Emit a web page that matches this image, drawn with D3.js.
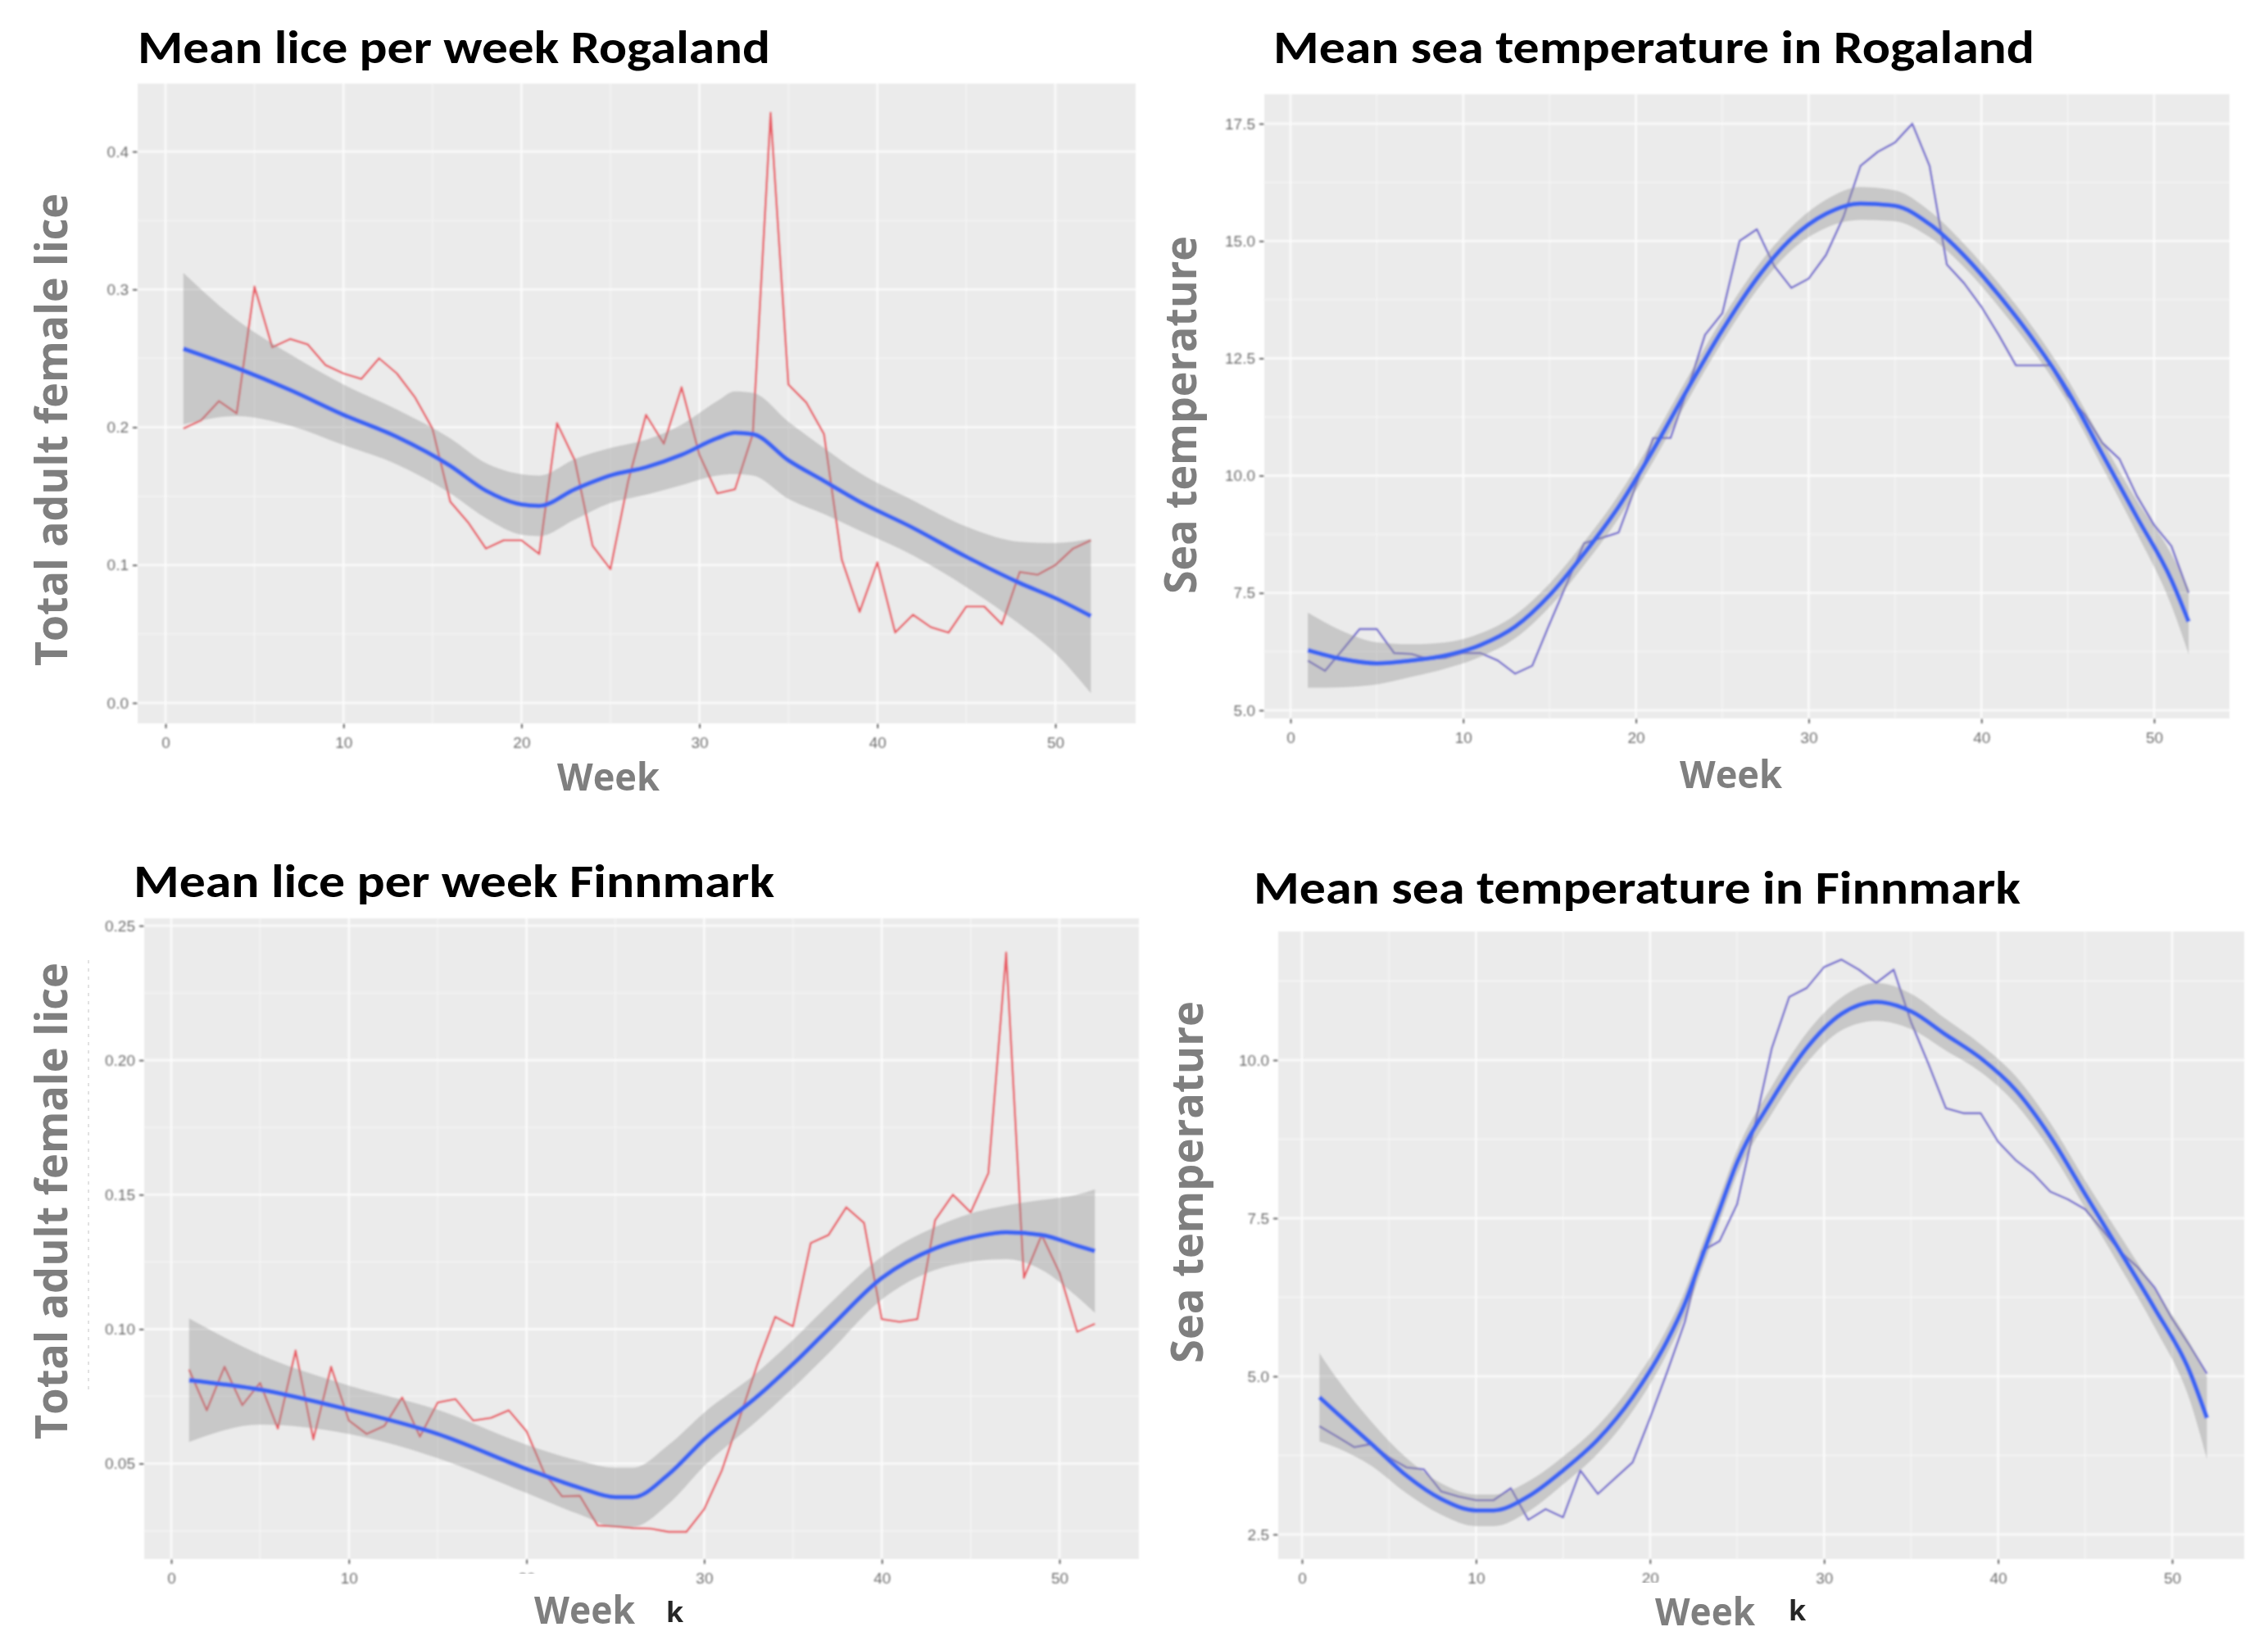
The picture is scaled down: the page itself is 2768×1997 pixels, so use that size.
<!DOCTYPE html>
<html><head><meta charset="utf-8">
<script src="https://cdn.jsdelivr.net/npm/d3@7/dist/d3.min.js"></script>
<style>body{margin:0;background:#fff}svg{display:block}</style>
</head><body>
<svg id="c" width="2768" height="1997"></svg>
<script>
// ---------- DATA ----------
const weeks = [1,2,3,4,5,6,7,8,9,10,11,12,13,14,15,16,17,18,19,20,21,22,23,24,25,26,
  27,28,29,30,31,32,33,34,35,36,37,38,39,40,41,42,43,44,45,46,47,48,49,50,51,52];

const liceRogaland = [0.199,0.205,0.219,0.210,0.302,0.258,0.264,0.260,0.245,0.239,0.235,0.250,0.239,0.222,0.199,0.146,0.131,0.112,0.118,0.118,0.108,0.203,0.176,0.114,0.097,0.161,0.209,0.188,0.229,0.180,0.152,0.155,0.195,0.428,0.231,0.218,0.195,0.104,0.066,0.102,0.051,0.064,0.055,0.051,0.070,0.070,0.057,0.095,0.093,0.100,0.112,0.118];
const tempRogaland = [6.06,5.84,6.28,6.73,6.73,6.22,6.20,6.09,6.12,6.22,6.22,6.06,5.78,5.95,6.84,7.70,8.56,8.67,8.79,9.79,10.8,10.8,11.85,13.0,13.46,15.0,15.25,14.47,14.0,14.2,14.7,15.5,16.6,16.9,17.1,17.5,16.6,14.5,14.1,13.6,13.0,12.35,12.35,12.35,11.7,11.3,10.7,10.35,9.57,8.95,8.5,7.5];
const liceFinnmark = [0.085,0.0698,0.086,0.0717,0.080,0.063,0.092,0.059,0.086,0.066,0.061,0.064,0.0746,0.060,0.0727,0.074,0.066,0.067,0.0698,0.062,0.0465,0.0378,0.038,0.027,0.0266,0.026,0.0258,0.0246,0.0246,0.033,0.0475,0.067,0.087,0.1046,0.101,0.132,0.135,0.1453,0.1395,0.1037,0.1027,0.1037,0.1405,0.150,0.1434,0.158,0.240,0.119,0.135,0.121,0.099,0.102];
const tempFinnmark = [4.21,4.05,3.88,3.93,3.72,3.56,3.53,3.18,3.10,3.04,3.04,3.23,2.73,2.90,2.77,3.51,3.14,3.39,3.64,4.34,5.08,5.86,6.98,7.14,7.72,8.95,10.19,11.0,11.14,11.47,11.59,11.43,11.22,11.43,10.6,9.94,9.24,9.16,9.16,8.71,8.42,8.21,7.92,7.80,7.64,7.31,6.98,6.73,6.40,5.91,5.49,5.04];

// loess smooth (fit, lower, upper)
const smLiceRogWeeks = [1,4,7,10,13,16,18,20,21,23,25,27,29,31,32,33,35,37,39,42,45,48,50,52];
const smLiceRogFit = [0.257,0.243,0.227,0.209,0.193,0.172,0.154,0.144,0.143,0.155,0.165,0.171,0.180,0.192,0.196,0.195,0.176,0.161,0.146,0.127,0.106,0.087,0.076,0.063];
const smLiceRogLo  = [0.202,0.208,0.201,0.187,0.173,0.152,0.134,0.122,0.121,0.133,0.145,0.151,0.158,0.165,0.166,0.165,0.148,0.137,0.125,0.107,0.084,0.057,0.036,0.007];
const smLiceRogHi  = [0.312,0.278,0.253,0.231,0.213,0.192,0.174,0.166,0.165,0.177,0.185,0.191,0.202,0.219,0.226,0.225,0.204,0.185,0.167,0.147,0.128,0.117,0.116,0.119];

const smTempRogWeeks = [1,3,5,7,9,11,13,15,17,19,21,23,25,27,29,31,33,35,37,39,41,43,45,47,49,51,52];
const smTempRogFit = [6.28,6.09,6.0,6.06,6.17,6.39,6.78,7.45,8.34,9.34,10.55,11.85,13.1,14.2,15.05,15.58,15.8,15.75,15.36,14.69,13.85,12.9,11.8,10.46,9.12,7.78,6.89];
const smTempRogLo  = [5.48,5.49,5.55,5.71,5.89,6.14,6.53,7.2,8.09,9.09,10.3,11.6,12.85,13.95,14.8,15.28,15.45,15.42,15.08,14.44,13.6,12.65,11.55,10.18,8.77,7.23,6.19];
const smTempRogHi  = [7.08,6.69,6.45,6.41,6.45,6.64,7.03,7.7,8.59,9.59,10.8,12.1,13.35,14.45,15.3,15.88,16.15,16.08,15.64,14.94,14.1,13.15,12.05,10.74,9.47,8.33,7.59];

const smLiceFinWeeks = [1,5,10,15,20,23,25,26,28,30,33,35,37,40,43,45,47,49,51,52];
const smLiceFinFit = [0.081,0.0775,0.070,0.061,0.048,0.041,0.0375,0.0375,0.046,0.059,0.075,0.087,0.100,0.119,0.130,0.134,0.136,0.135,0.131,0.129];
const smLiceFinLo  = [0.058,0.0645,0.061,0.052,0.039,0.031,0.0265,0.0265,0.035,0.049,0.066,0.078,0.091,0.111,0.122,0.125,0.126,0.122,0.112,0.106];
const smLiceFinHi  = [0.104,0.0905,0.079,0.070,0.057,0.051,0.0485,0.0485,0.057,0.069,0.084,0.096,0.109,0.127,0.138,0.143,0.146,0.148,0.150,0.152];

const smTempFinWeeks = [1,2,4,6,8,10,11,13,15,17,19,21,22,23,24,25,27,29,31,33,35,37,39,41,43,45,47,49,51,52];
const smTempFinFit = [4.67,4.42,3.93,3.43,3.06,2.88,2.88,3.10,3.51,4.00,4.67,5.57,6.15,6.90,7.64,8.38,9.37,10.19,10.73,10.92,10.77,10.40,10.03,9.53,8.79,7.88,6.98,6.07,5.08,4.34];
const smTempFinLo  = [3.97,3.87,3.58,3.15,2.81,2.63,2.63,2.86,3.29,3.78,4.45,5.37,5.95,6.70,7.44,8.18,9.15,9.95,10.47,10.62,10.49,10.15,9.81,9.31,8.57,7.66,6.73,5.77,4.63,3.69];
const smTempFinHi  = [5.37,4.97,4.28,3.71,3.31,3.13,3.13,3.34,3.73,4.22,4.89,5.77,6.35,7.10,7.84,8.58,9.59,10.43,10.99,11.22,11.05,10.65,10.25,9.75,9.01,8.10,7.23,6.37,5.53,4.99];

// ticks
const weekTicks = [0,10,20,30,40,50];
const liceRogTicks = [0.0,0.1,0.2,0.3,0.4];
const tempRogTicks = [5.0,7.5,10.0,12.5,15.0,17.5];
const liceFinTicks = [0.05,0.10,0.15,0.20,0.25];
const tempFinTicks = [2.5,5.0,7.5,10.0];

// texts
const titles = ["Mean lice per week Rogaland","Mean sea temperature in Rogaland","Mean lice per week Finnmark","Mean sea temperature in Finnmark"];
const xTitle = "Week";
const yTitles = ["Total adult female lice","Sea temperature"];

// ---------- DRAW ----------
const svg = d3.select('#c');
const defs = svg.append('defs');
defs.append('filter').attr('id','soft').attr('x','-2%').attr('y','-2%').attr('width','104%').attr('height','104%')
  .append('feGaussianBlur').attr('stdDeviation',0.9);
defs.append('filter').attr('id','soft2')
  .append('feGaussianBlur').attr('stdDeviation',0.6);

function panel(o){
  const [bx0,by0,bx1,by1] = o.box;
  const x = d3.scaleLinear().domain([0,50]).range(o.xr);
  const y = d3.scaleLinear().domain(o.yd).range(o.yr);
  const g = svg.append('g').attr('filter','url(#soft)');
  g.append('rect').attr('x',bx0).attr('y',by0).attr('width',bx1-bx0).attr('height',by1-by0).attr('fill','#ebebeb');
  const cid = 'clip'+o.id;
  defs.append('clipPath').attr('id',cid).append('rect').attr('x',bx0).attr('y',by0).attr('width',bx1-bx0).attr('height',by1-by0);
  const grid = g.append('g').attr('clip-path',`url(#${cid})`);
  // minor grid
  const xs = o.xTicks[1]-o.xTicks[0];
  const xMinor = [o.xTicks[0]-xs/2].concat(o.xTicks.map(t=>t+xs/2)).filter(v=>x(v)>bx0&&x(v)<bx1);
  const ys = o.yTicks[1]-o.yTicks[0];
  const yMinor = [o.yTicks[0]-ys/2].concat(o.yTicks.map(t=>t+ys/2)).filter(v=>y(v)>by0&&y(v)<by1);
  grid.selectAll('.xm').data(xMinor).join('line').attr('x1',d=>x(d)).attr('x2',d=>x(d)).attr('y1',by0).attr('y2',by1)
    .attr('stroke','#f6f6f6').attr('stroke-width',1.3);
  grid.selectAll('.ym').data(yMinor).join('line').attr('y1',d=>y(d)).attr('y2',d=>y(d)).attr('x1',bx0).attr('x2',bx1)
    .attr('stroke','#f6f6f6').attr('stroke-width',1.3);
  grid.selectAll('.xM').data(o.xTicks).join('line').attr('x1',d=>x(d)).attr('x2',d=>x(d)).attr('y1',by0).attr('y2',by1)
    .attr('stroke','#fbfbfb').attr('stroke-width',2.6);
  grid.selectAll('.yM').data(o.yTicks).join('line').attr('y1',d=>y(d)).attr('y2',d=>y(d)).attr('x1',bx0).attr('x2',bx1)
    .attr('stroke','#fbfbfb').attr('stroke-width',2.6);

  // raw line
  const raw = weeks.map((w,i)=>({w, v:o.raw[i]}));
  g.append('path').datum(raw).attr('fill','none').attr('stroke',o.rawColor).attr('stroke-width',2.6)
    .attr('stroke-opacity',0.9).attr('stroke-linejoin','round')
    .attr('d', d3.line().x(d=>x(d.w)).y(d=>y(d.v)));
  // ribbon + smooth
  const sm = o.smW.map((w,i)=>({w, f:o.smF[i], lo:o.smL[i], hi:o.smH[i]}));
  g.append('path').datum(sm).attr('fill','#999999').attr('fill-opacity',0.42)
    .attr('d', d3.area().curve(d3.curveMonotoneX).x(d=>x(d.w)).y0(d=>y(d.lo)).y1(d=>y(d.hi)));
  g.append('path').datum(sm).attr('fill','none').attr('stroke','#3d66f2').attr('stroke-width',5.5)
    .attr('d', d3.line().curve(d3.curveMonotoneX).x(d=>x(d.w)).y(d=>y(d.f)));

  // axes
  const ax = g.append('g').attr('transform',`translate(0,${by1})`)
    .call(d3.axisBottom(x).tickValues(o.xTicks).tickSize(6).tickPadding(11).tickFormat(d3.format('d')));
  const ay = g.append('g').attr('transform',`translate(${bx0},0)`)
    .call(d3.axisLeft(y).tickValues(o.yTicks).tickSize(6).tickPadding(5).tickFormat(d3.format(o.fmt)));
  [ax,ay].forEach(a=>{
    a.select('.domain').remove();
    a.selectAll('.tick line').attr('stroke','#444').attr('stroke-width',1.6);
    a.selectAll('.tick text').attr('fill','#6e6e6e').style('font-family','"Liberation Sans", Arial, sans-serif').style('font-size','19px');
  });
  return {x,y,g};
}

const P1 = panel({id:1, box:[168,102,1386,883], xr:[202,1288], yd:[0,0.4], yr:[858,185],
  xTicks:weekTicks, yTicks:liceRogTicks, fmt:'.1f', raw:liceRogaland, rawColor:'#e8505a',
  smW:smLiceRogWeeks, smF:smLiceRogFit, smL:smLiceRogLo, smH:smLiceRogHi});
const P2 = panel({id:2, box:[1543,115,2721,877], xr:[1575,2629], yd:[5,17.5], yr:[867,151],
  xTicks:weekTicks, yTicks:tempRogTicks, fmt:'.1f', raw:tempRogaland, rawColor:'#6a62cc',
  smW:smTempRogWeeks, smF:smTempRogFit, smL:smTempRogLo, smH:smTempRogHi});
const P3 = panel({id:3, box:[176,1121,1390,1903], xr:[209,1293], yd:[0.05,0.25], yr:[1786.5,1130],
  xTicks:weekTicks, yTicks:liceFinTicks, fmt:'.2f', raw:liceFinnmark, rawColor:'#e8505a',
  smW:smLiceFinWeeks, smF:smLiceFinFit, smL:smLiceFinLo, smH:smLiceFinHi});
const P4 = panel({id:4, box:[1560,1137,2739,1903], xr:[1589,2651], yd:[2.5,10], yr:[1873,1294],
  xTicks:weekTicks, yTicks:tempFinTicks, fmt:'.1f', raw:tempFinnmark, rawColor:'#6a62cc',
  smW:smTempFinWeeks, smF:smTempFinFit, smL:smTempFinLo, smH:smTempFinHi});

// leftover artefacts of the slide
svg.append('line').attr('x1',108).attr('x2',108).attr('y1',306).attr('y2',673)
  .attr('stroke','#555').attr('stroke-width',2).attr('stroke-dasharray','7 7').attr('filter','url(#soft2)');
svg.append('line').attr('x1',108).attr('x2',108).attr('y1',1172).attr('y2',1700)
  .attr('stroke','#e2e2e2').attr('stroke-width',2).attr('stroke-dasharray','4 6');

// white text boxes covering part of the bottom axes
svg.append('rect').attr('x',628).attr('y',1921).attr('width',180).attr('height',76).attr('fill','#fff');
svg.append('rect').attr('x',1995).attr('y',1932).attr('width',187).attr('height',65).attr('fill','#fff');

// remnants "k"
[[813,1980],[2183,1978]].forEach(([kx,ky])=>{
  svg.append('text').attr('x',kx).attr('y',ky).text('k')
    .style('font-family','"Open Sans", sans-serif').style('font-weight',700).style('font-size','34px')
    .attr('fill','#262626').attr('filter','url(#soft2)');
});

// Titles
const titleSpec = [[168,77,772],[1554,77,929],[163,1095,782],[1530,1103,936]];
titleSpec.forEach(([tx,ty,tw],i)=>{
  svg.append('text').attr('x',tx).attr('y',ty).text(titles[i])
    .attr('textLength',tw).attr('lengthAdjust','spacingAndGlyphs')
    .style('font-family','Carlito, Lato, "Open Sans", sans-serif').style('font-weight',700).style('font-size','57px')
    .attr('fill','#000');
});

// x axis titles
const weekSpec = [[680,965,125],[2050,962,125],[652,1982,123],[2020,1984,122]];
weekSpec.forEach(([tx,ty,tw])=>{
  svg.append('text').attr('x',tx).attr('y',ty).text(xTitle)
    .attr('textLength',tw).attr('lengthAdjust','spacingAndGlyphs')
    .style('font-family','"Open Sans", sans-serif').style('font-weight',700).style('font-size','47px')
    .attr('fill','#7f7f7f');
});

// y axis titles
const ySpec = [[82,524.5,577,0],[1460,506.5,437,1],[82,1466,582,0],[1468,1443,442,1]];
ySpec.forEach(([bx,cy,len,k])=>{
  svg.append('text').attr('transform',`translate(${bx},${cy}) rotate(-90)`).attr('text-anchor','middle')
    .text(yTitles[k]).attr('textLength',len).attr('lengthAdjust','spacingAndGlyphs')
    .style('font-family','"Open Sans", sans-serif').style('font-weight',700).style('font-size', k===0?'54px':'53px')
    .attr('fill','#7f7f7f');
});
</script>
</body></html>
